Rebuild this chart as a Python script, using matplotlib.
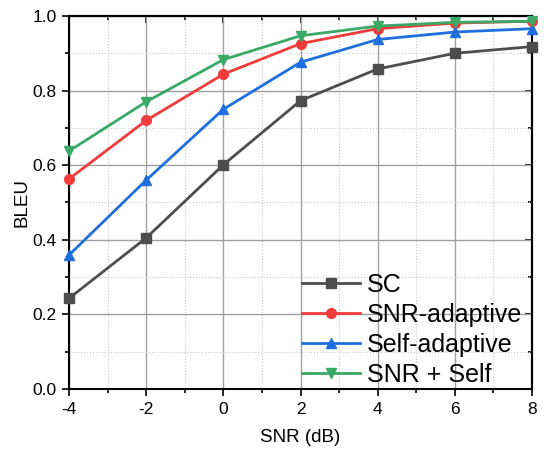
import matplotlib
matplotlib.use('Agg')
import matplotlib.pyplot as plt
from matplotlib.ticker import MultipleLocator

plt.rcParams['font.family'] = ['Liberation Sans', 'DejaVu Sans']
plt.rcParams['axes.unicode_minus'] = False

# data
SNR       = [-4, -2, 0, 2, 4, 6, 8]
SC        = [0.243, 0.405, 0.601, 0.773, 0.858, 0.900, 0.918]
SNR_ADAPT = [0.563, 0.720, 0.844, 0.926, 0.966, 0.981, 0.986]
SELF_ADAPT = [0.359, 0.560, 0.750, 0.876, 0.937, 0.957, 0.966]
SNR_SELF  = [0.638, 0.770, 0.883, 0.947, 0.973, 0.983, 0.986]

LABELS = ['SC', 'SNR-adaptive', 'Self-adaptive', 'SNR + Self']
COLORS = ['#4d4d4d', '#f03c3c', '#1f6fde', '#3aa866']
MARKERS = ['s', 'o', '^', 'v']

fig = plt.figure(figsize=(5.44, 4.51), dpi=100)
ax = fig.add_axes([69 / 544, 1 - 389 / 451, 463 / 544, 373 / 451])

for ys, lab, c, m in zip([SC, SNR_ADAPT, SELF_ADAPT, SNR_SELF], LABELS, COLORS, MARKERS):
    ax.plot(SNR, ys, color=c, marker=m, markersize=7, linewidth=2, label=lab,
            clip_on=False, zorder=3)

ax.set_xlim(-4, 8)
ax.set_ylim(0, 1.0)
ax.xaxis.set_major_locator(MultipleLocator(2))
ax.xaxis.set_minor_locator(MultipleLocator(1))
ax.yaxis.set_major_locator(MultipleLocator(0.2))
ax.yaxis.set_minor_locator(MultipleLocator(0.1))
ax.yaxis.set_major_formatter(lambda v, _: f'{v:.1f}')

ax.grid(True, which='major', color='#a0a0a0', linewidth=1.0)
ax.grid(True, which='minor', color='#c8c8c8', linewidth=0.8, linestyle=':')

ax.tick_params(which='both', direction='out', top=False, right=False, labelsize=12.5,
               colors='black', width=1.2)
ax.tick_params(which='major', length=5, pad=4)
ax.tick_params(which='minor', length=3)
# inward ticks on top / right
axt = ax.secondary_xaxis('top')
axt.xaxis.set_major_locator(MultipleLocator(2))
axt.xaxis.set_minor_locator(MultipleLocator(1))
axt.tick_params(which='both', direction='in', labeltop=False, width=1.2)
axt.tick_params(which='major', length=5)
axt.tick_params(which='minor', length=3)
axr = ax.secondary_yaxis('right')
axr.yaxis.set_major_locator(MultipleLocator(0.2))
axr.yaxis.set_minor_locator(MultipleLocator(0.1))
axr.tick_params(which='both', direction='in', labelright=False, width=1.2)
axr.tick_params(which='major', length=5)
axr.tick_params(which='minor', length=3)
for s in list(ax.spines.values()) + [axt.spines['top'], axr.spines['right']]:
    s.set_linewidth(1.5)
    s.set_color('black')

ax.set_xlabel('SNR (dB)', fontsize=13.5, labelpad=9)
ax.set_ylabel('BLEU', fontsize=13.5, labelpad=1)

ax.legend(loc='lower right', frameon=False, fontsize=18, handlelength=2.3,
          handletextpad=0.28, labelspacing=0.24, borderaxespad=0.0,
          bbox_to_anchor=(1.0, -0.022))

fig.savefig('out.png', dpi=100)
